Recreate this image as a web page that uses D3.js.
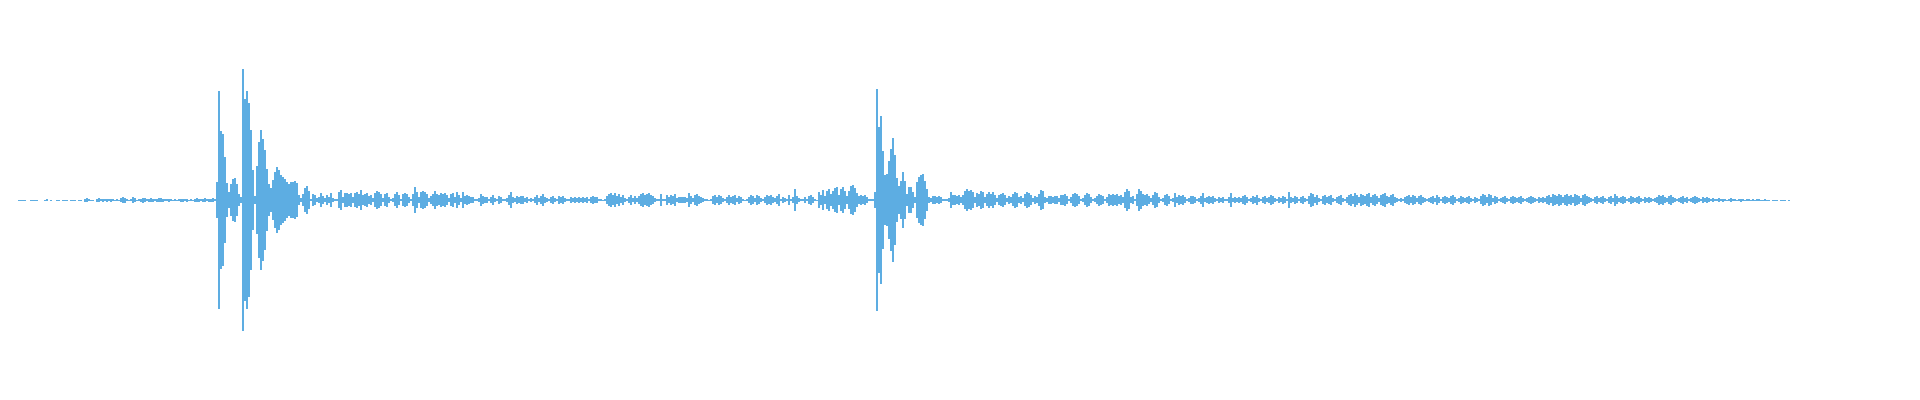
<!DOCTYPE html>
<html>
<head>
<meta charset="utf-8">
<script src="https://cdn.jsdelivr.net/npm/d3@7"></script>
<style>
  html, body { margin: 0; padding: 0; background: #ffffff; }
  svg { display: block; }
</style>
</head>
<body>
<svg id="chart" width="1920" height="400"></svg>
<script>
// Waveform peak amplitudes (one value per 2-sample bin)
const quietStart = [
  0.5,0.5,0.5,0.5,0,0,0.5,0.5,0.5,0.5,
  0,0,0,0.5,1,0,0.5,0,0,0.5,
  0.5,0,0.5,0.5,0.5,0,0.5,0.5,0.5,0,
  0.5,0.5,0,1.5,2,1,0.5,0.5,0,1.5,
  2,1,1.5,1,1.5,1,1.5,1,0.5,1,
  0.5,2,3,2.5,1,0.5,1,3,2,0.5,
  1,1.5,2.5,2,1,1.5,2,1.5,1,1.5,
  2,2,1.5,1,1,1.5,1,0.5,1,0.5,
  1,1.5,1.5,1,1.5,0.5,1,0.5,1.5,2,
  1.5,1,1.5,2,1,1.5,1.5,2,1
];
const burstA = [
  18,109,69,66,43,17,8,16,21,22,16,
  6,3,131,101,109,97,70,30,4,34,
  58,70,61,50,31,16,12,20,28,33,
  30,25,23,21,18,16,18,18,19,17,
  5,2,6,12,14,9
];
const speechA = [
  1,6,5,2,
  3,7,4,2,5,3,7,2,1,1,
  8,10,3,7,7,6,7,3,7,8,
  6,10,5,6,7,4,5,2,7,9,
  8,6,2,6,7,3,1,2,6,8,
  5,1,6,7,6,3,1,6,13,8,
  3,8,9,8,6,2,4,6,9,6,
  5,7,6,7,5,2,6,7,3,8,
  5,2,8,4,5,4,3,3,1,1,
  2,6,4,3,3,1,3,5,2,1,
  4,3,1,1,2,5,8,3,2,4,
  3,4,4,2,3,1,2,1,3,5,
  2,4,6,3,2,1,3,4,2,1,
  4,3,4,2,1,1,3,2,3,2,
  3,2,3,2,3,1,3,4,3,3,
  1,1,0.5,1,4,6,7,5,7,4,
  6,3,5,2,1,3,5,2,4,2,
  4,6,7,5,6,7,5,4,2,1,
  1,6,1,1,5,3,5,4,6,2,
  3,3,3,3,2,7,4,2,5,6,
  4,3,2,1,1,0.5,1,4,5,3,
  5,4,2,1,3,5,3,4,5,2,
  4,3,1,0.5,1,3,5,4,2,5,
  4,2,1,3,5,4,5,3,2,4,
  6,1,3,2,1,5,1,3,11,4,
  2,1,1,3,1,4,5,3,1,0.5,
  8,5,10,4,9,11,6,9,12,13,
  5,11,13,9,4,9,14,15,12,7,
  4,5,4,5,3,1,1,1
];
const burstB = [
  8,111,73,84,49,25,26,39,51,62,45,22,
  14,19,28,19,6,13,13,8,3,18,
  23,25,26,19,11,3,2,4,4,3,
  4,3,1,1,1,2,8,5,5,4,
  5,3
];
const speechB = [
  5,9,11,9,10,8,3,7,6,9,
  8,3,6,8,6,8,5,2,5,6,
  7,5,2,4,3,6,8,7,3,4,
  2,6,8,7,5,2,4,3,6,10,
  9,3,2,4,4,3,4,4,2,5,
  5,6,4,1,3,6,7,6,4,1,
  2,5,7,6,3,1,2,4,6,5,
  4,1,3,6,5,6,5,6,4,5,
  3,8,11,9,3,4,1,6,11,9,
  6,5,6,4,2,5,8,7,3,1,
  2,5,6,4,1,2,7,3,5,4,
  5,3,1,2,4,4,3,1,2,4,
  7,2,3,4,3,4,2,1,3,2,
  3,1,1,3,7,2,3,2,3
];
const speechC = [
  2,4,5,3,1,2,4,3,5,2,1,3,4,2,3,5,4,2,1,3,2,4,3,1,
  8,3,
  2,4,3,1,3,4,2,1,
  4,7,6,3,5,
  2,1,4,5,3,4,5,2,1,3,4,5,2,1,3,
  5,6,4,7,5,3,6,5,4,6,7,3,5,6,4,2,5,6,7,4,3,5,6,3,2,
  1,2,1,3,
  4,5,3,5,4,2,4,5,3,2,1,2,
  3,4,2,5,3,1,3,4,3,2,4,5,3,1,2,4,3,2,3,4,2,1,3,2,1,
  4,6,5,3,6,5,2,4,3,1,
  2,3,4,2,1,3,4,3,2,3,4,2,1,2,3,4,3,2,1,3,2,3,2,
  4,5,3,6,5,4,6,5,3,5,6,4,5,3,6,5,4,2,5,6,4,3,2,
  1,3,4,2,3,4,2,1,3,4,2,
  6,4,
  2,3,4,3,1,2,4,3,2,3,4,2,1,3,2,3,2,1,2,
  3,5,4,5,3,2,4,5,3,2,1,
  2,3,4,2,3,1,2,3,4,3,2,1,3,2,3,2,1,2,1,
  1,2,1,1.5,1,0.5,1,2,1,1,0.5,1,1.5,1,0.5,1,1,0.5,1,0.5,1,1,0.5,0.5,1,
  0.5,0.5,0,0.5,0.5,0.5,0,0.5,0.5,0.5,0,0.5
];

const amp = [].concat(quietStart, burstA, speechA, burstB, speechB, speechC);

const width = 1920, height = 400;
const left = 18, binPx = 2;
const svg = d3.select('#chart');
svg.append('rect').attr('width', width).attr('height', height).attr('fill', '#ffffff');

const x = d3.scaleLinear().domain([0, amp.length]).range([left, left + binPx * amp.length]);
const y = d3.scaleLinear().domain([-200, 200]).range([height, 0]);

svg.append('g')
  .attr('shape-rendering', 'crispEdges')
  .selectAll('rect')
  .data(amp.map((a, i) => ({ a, i })).filter(d => d.a > 0))
  .join('rect')
  .attr('x', d => x(d.i))
  .attr('width', d => x(d.i + 1) - x(d.i))
  .attr('y', d => y(d.a))
  .attr('height', d => Math.max(1, y(-d.a) - y(d.a)))
  .attr('fill', '#5dade2');
</script>
</body>
</html>
